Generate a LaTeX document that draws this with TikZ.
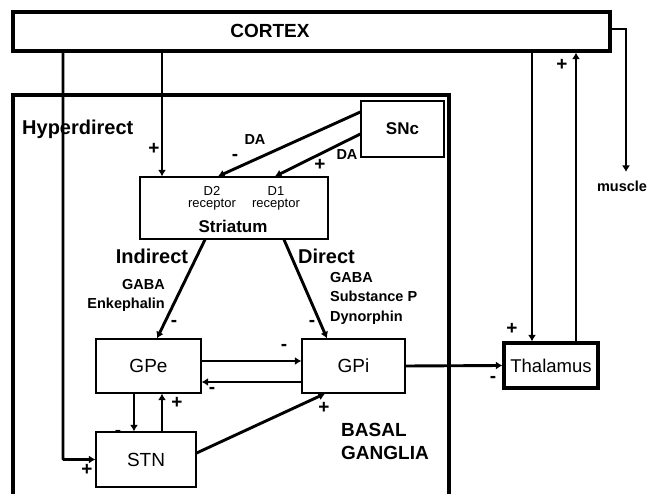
\documentclass[tikz,border=0pt]{standalone}
\usepackage{fontspec}
\setmainfont{Liberation Sans}
\usetikzlibrary{arrows.meta}
\begin{document}
\begin{tikzpicture}[x=1pt,y=-1pt,
  arr/.style={line width=2.9pt,-{Latex[length=6.5pt,width=8pt]}},
  boxthin/.style={draw,line width=1.3pt,inner sep=0pt,fill=white},
  boxthick/.style={draw,line width=3.2pt,inner sep=0pt,fill=white},
  nodetxt/.style={font=\fontsize{19}{21}\selectfont},
  lbl/.style={font=\bfseries\fontsize{20}{22}\selectfont,inner sep=0pt},
  sml/.style={font=\bfseries\fontsize{14.5}{19.5}\selectfont,inner sep=0pt},
  sgn/.style={font=\bfseries\fontsize{19}{19}\selectfont,inner sep=0pt}]
\useasboundingbox (0,0) rectangle (649,494);
% basal ganglia frame (open at the bottom)
\draw[line width=3.2pt] (13,497) |- (449,95) -- (449,497);
% boxes
\node[boxthick,minimum width=597pt,minimum height=39pt] (cortex) at (311.5,31.5) {};
\node[font=\bfseries\fontsize{19}{21}\selectfont,anchor=base,inner sep=0pt] (cortextxt) at (270,38) {CORTEX};
\node[boxthin,minimum width=188pt,minimum height=62pt] (striatum) at (234,208) {};
\node[font=\fontsize{13}{13}\selectfont,inner sep=0pt] (d2) at (212,191) {D2};
\node[font=\fontsize{13}{13}\selectfont,inner sep=0pt] (d1) at (276,191) {D1};
\node[font=\fontsize{13}{13}\selectfont,inner sep=0pt] (r2) at (212,205) {receptor};
\node[font=\fontsize{13}{13}\selectfont,inner sep=0pt] (r1) at (276,205) {receptor};
\node[font=\bfseries\fontsize{17}{17}\selectfont,anchor=base,inner sep=0pt] (strtxt) at (233,233) {Striatum};
\node[boxthin,minimum width=83pt,minimum height=56pt,font=\bfseries\fontsize{17}{17}\selectfont] (snc) at (402.5,129) {SNc};
\node[boxthin,minimum width=105pt,minimum height=54pt,nodetxt] (gpe) at (148.5,366) {GPe};
\node[boxthin,minimum width=103pt,minimum height=54pt,nodetxt] (gpi) at (353.5,366) {GPi};
\node[boxthin,minimum width=100pt,minimum height=55pt,nodetxt] (stn) at (146,459.5) {STN};
\node[boxthick,minimum width=94pt,minimum height=45pt,font=\fontsize{18.5}{20}\selectfont] (thal) at (551,365.5) {Thalamus};
% connectors
\draw[arr] (cortex.south -| 162,0) -- (striatum.north -| 162,0);
\draw[arr,rounded corners=1pt] (cortex.south -| 63,0) |- (stn.west);
\draw[arr] (snc.west |- 0,112) -- (striatum.north -| 218,0);
\draw[arr] (snc.west |- 0,134) -- (striatum.north -| 275,0);
\draw[arr] (striatum.south -| 205,0) -- (gpe.north -| 157,0);
\draw[arr] (striatum.south -| 284,0) -- (gpi.north -| 327,0);
\draw[arr] (gpe.east |- 0,361) -- (gpi.west |- 0,361);
\draw[arr] (gpi.west |- 0,382) -- (gpe.east |- 0,382);
\draw[arr] (gpe.south -| 134,0) -- (stn.north -| 134,0);
\draw[arr] (stn.north -| 162,0) -- (gpe.south -| 162,0);
\draw[arr] (stn.east |- 0,453) -- (gpi.south -| 325,0);
\draw[arr] (gpi.east) -- (thal.west);
\draw[arr] (cortex.south -| 532,0) -- (thal.north -| 532,0);
\draw[arr] (thal.north -| 576,0) -- (cortex.south -| 576,0);
\coordinate (mus) at (626,172);
\draw[arr] (cortex.east |- 0,29) -| (mus);
% labels
\node[lbl,anchor=base west] (hyper) at (22,135) {Hyperdirect};
\node[lbl,anchor=base] (indirect) at (152,264) {Indirect};
\node[lbl,anchor=base west] (direct) at (298,264) {Direct};
\node[lbl,anchor=base west,font=\bfseries\fontsize{19}{23}\selectfont,align=left] (bg) at (341,460) {BASAL\\GANGLIA};
\node[sml,anchor=north east,align=right] (indnt) at (165,279) {GABA\\Enkephalin};
\node[sml,anchor=north west,align=left] (dirnt) at (330,272) {GABA\\Substance P\\Dynorphin};
\node[sml] (da1) at (255,140) {DA};
\node[sml] (da2) at (347,155) {DA};
\node[sml,anchor=north] (muscletxt) at (622,181) {muscle};
% signs
\node[sgn] (s1) at (154,149) {+};
\node[sgn] (s2) at (235,157) {-};
\node[sgn] (s3) at (320,165) {+};
\node[sgn] (s4) at (174,323) {-};
\node[sgn] (s5) at (312,323) {-};
\node[sgn] (s6) at (284,347) {-};
\node[sgn] (s7) at (212,390) {-};
\node[sgn] (s8) at (118,433) {-};
\node[sgn] (s9) at (177,403) {+};
\node[sgn] (s10) at (87,470) {+};
\node[sgn] (s11) at (324,408) {+};
\node[sgn] (s12) at (493,379) {-};
\node[sgn] (s13) at (512,329) {+};
\node[sgn] (s14) at (562,65) {+};
\end{tikzpicture}
\end{document}
